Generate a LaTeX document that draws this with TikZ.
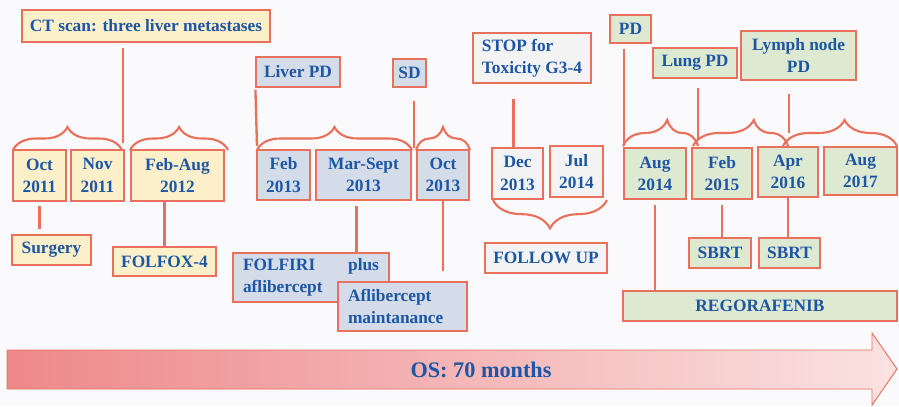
\documentclass[tikz,border=0pt]{standalone}
\usepackage{fontspec}
\setmainfont{Liberation Serif}
\usetikzlibrary{calc,decorations.pathreplacing}
\definecolor{tblue}{RGB}{28,86,165}
\definecolor{bord}{RGB}{232,112,92}
\definecolor{fyel}{RGB}{252,240,202}
\definecolor{fblu}{RGB}{212,220,233}
\definecolor{fgrn}{RGB}{222,233,210}
\definecolor{fgry}{RGB}{243,243,244}
\definecolor{bg}{RGB}{250,250,252}
\definecolor{arrL}{RGB}{238,136,138}
\definecolor{arrR}{RGB}{251,226,226}
% box from corner (x1,y1) to (x2,y2) in pixel units
\newcommand\bx[7]{\node[#1, minimum width={(#5-#3)*0.03cm}, minimum height={(#6-#4)*0.03cm}]
  (#2) at ({(#3+#5)/2},{(#4+#6)/2}) {#7};}
\begin{document}
\begin{tikzpicture}[x=0.03cm,y=-0.03cm,
  box/.style={draw=bord, line width=1.1pt, text=tblue, inner sep=0pt, align=center,
    font=\bfseries\fontsize{14.8}{19}\selectfont},
  ybox/.style={box, fill=fyel},
  bbox/.style={box, fill=fblu},
  gbox/.style={box, fill=fgrn},
  wbox/.style={box, fill=fgry},
  conn/.style={draw=bord, line width=2pt},
  brc/.style={draw=bord, line width=1.8pt, decorate, decoration={brace, amplitude=#1}},
  brc/.default={0.69cm}
]
\fill[bg] (0,0) rectangle (899,406);
\useasboundingbox (0,0) rectangle (899,406);

% ---------- yellow part ----------
\bx{ybox}{ct}{22}{10}{270}{42}{CT scan: three liver metastases}
\bx{ybox}{oct11}{13}{150}{66}{201}{Oct\\2011}
\bx{ybox}{nov11}{71}{150}{124}{201}{Nov\\2011}
\bx{ybox}{febaug}{131}{150}{224}{201}{Feb-Aug\\2012}
\bx{ybox}{surg}{12}{235}{91}{265}{Surgery}
\bx{ybox}{folfox}{113}{247}{216}{276}{FOLFOX-4}

\draw[brc] (13,150) -- (122,150);
\draw[brc] (130,150) -- (228,150);
\coordinate (j1) at (123,143);
\draw[conn, shorten <=0.15cm] (ct.south -| j1) -- (j1);
\draw[conn, shorten <=0.12cm, shorten >=0.15cm] (oct11.south) -- (oct11.south |- surg.north);
\draw[conn] (folfox.north) -- (folfox.north |- febaug.south);

% ---------- blue part ----------
\bx{bbox}{liverpd}{256}{57}{340}{87}{Liver PD}
\bx{bbox}{sd}{393}{59}{426}{87}{SD}
\bx{bbox}{feb13}{257}{150}{310}{200}{Feb\\2013}
\bx{bbox}{marsep}{316}{150}{411}{200}{Mar-Sept\\2013}
\bx{bbox}{oct13}{417}{150}{469}{200}{Oct\\2013}
\bx{bbox, text width=4.08cm, align=left}{folfiri}{233}{253}{389}{302}{FOLFIRI\hfill plus\\aflibercept}
\bx{bbox, text width=3.27cm, align=left}{aflib}{338}{282}{467}{331}{Aflibercept\\maintanance}

\draw[brc] (257,150) -- (412,150);
\draw[brc] (416,150) -- (470,150);
\coordinate (j3) at (257,146);
\coordinate (j4) at (414,148);
\coordinate (jf) at ($(marsep.south)+(-7,0)$);
\draw[conn, shorten <=0.06cm] (liverpd.south west) -- (j3);
\draw[conn, shorten <=0.39cm] (sd.south -| j4) -- (j4);
\draw[conn, shorten <=0.15cm] (jf) -- (jf |- folfiri.north);
\draw[conn, shorten >=0.3cm] (oct13.south) -- (oct13.south |- aflib.north);

% ---------- follow up ----------
\bx{wbox, align=left}{stop}{473}{33}{591}{83}{STOP for\\Toxicity G3-4}
\bx{wbox}{dec13}{492}{148}{543}{199}{Dec\\2013}
\bx{wbox}{jul14}{550}{146}{603}{197}{Jul\\2014}
\bx{wbox}{fu}{485}{243}{607}{273}{FOLLOW UP}
\coordinate (js) at ($(dec13.north)+(-4,0)$);
\draw[conn, shorten <=0.45cm] (stop.south -| js) -- (js);
\draw[brc=0.85cm] (607,200) -- (493,200);

% ---------- green part ----------
\bx{gbox}{pd}{610}{15}{651}{43}{PD}
\bx{gbox}{lungpd}{653}{48}{737}{78}{Lung PD}
\bx{gbox}{lymph}{741}{31}{856}{80}{Lymph node\\PD}
\bx{gbox}{aug14}{624}{148}{686}{199}{Aug\\2014}
\bx{gbox}{feb15}{692}{148}{752}{199}{Feb\\2015}
\bx{gbox}{apr16}{758}{147}{818}{197}{Apr\\2016}
\bx{gbox}{aug17}{824}{147}{897}{195}{Aug\\2017}
\bx{gbox}{sbrt1}{689}{238}{751}{268}{SBRT}
\bx{gbox}{sbrt2}{759}{238}{820}{268}{SBRT}
\bx{gbox}{rego}{623}{291}{897}{321}{REGORAFENIB}

\draw[brc=0.78cm, decoration={aspect=0.59}] (623,146) -- (698,146);
\draw[brc=0.78cm, decoration={aspect=0.64}] (693,146) -- (788,146);
\draw[brc=0.78cm, decoration={aspect=0.54}] (783,146) -- (897,146);
\coordinate (jp) at (624,146);
\coordinate (jl) at (698,139);
\coordinate (jn) at (789,133);
\draw[conn, shorten <=0.15cm] (pd.south -| jp) -- (jp);
\draw[conn, shorten <=0.27cm] (lungpd.south -| jl) -- (jl);
\draw[conn, shorten <=0.39cm] (lymph.south -| jn) -- (jn);
\draw[conn, shorten <=0.15cm] (aug14.south) -- (aug14.south |- rego.north);
\draw[conn, shorten <=0.15cm] (feb15.south) -- (feb15.south |- sbrt1.north);
\draw[conn] (apr16.south) -- (apr16.south |- sbrt2.north);

% ---------- OS arrow ----------
\shade[left color=arrL, right color=arrR, draw=bord, line width=0.8pt]
  (7,350) -- (872,350) -- (872,333) -- (897,369) -- (872,405) -- (872,389) -- (7,389) -- cycle;
\node[text=tblue, font=\bfseries\fontsize{19}{22}\selectfont] (os) at (481,370) {OS: 70 months};
\end{tikzpicture}
\end{document}
